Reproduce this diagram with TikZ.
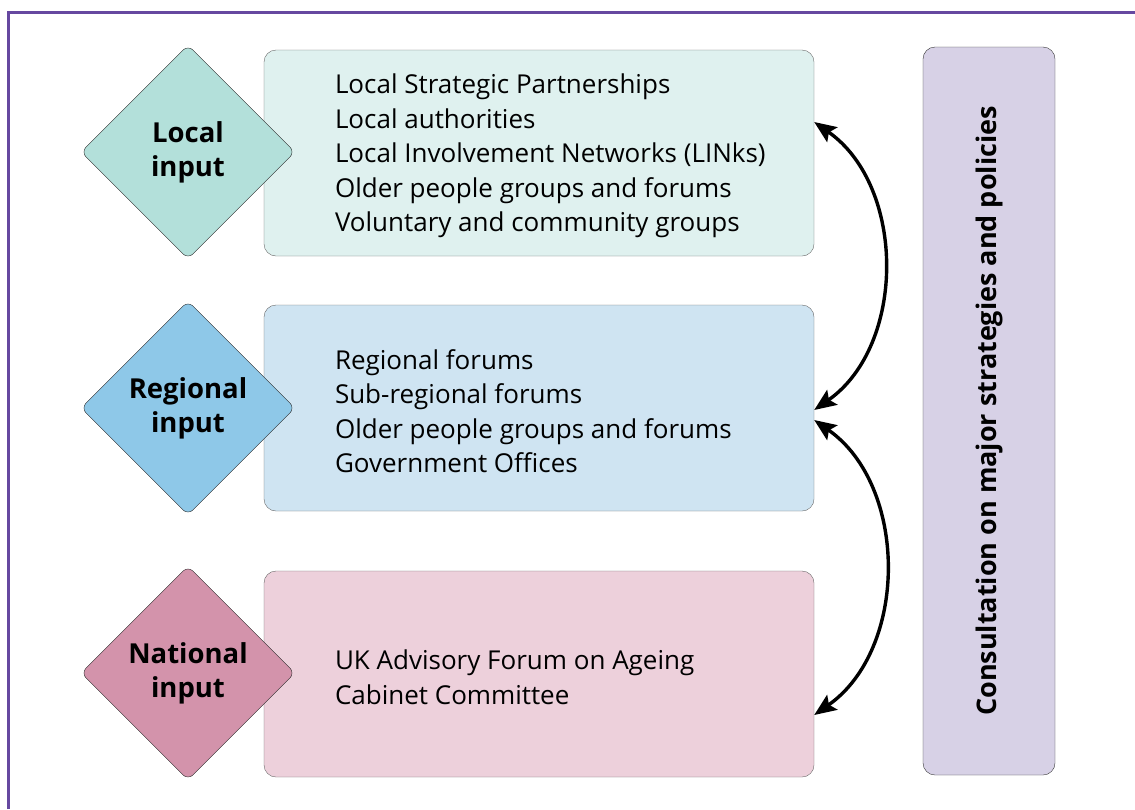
\documentclass[tikz,border=0pt]{standalone}
\usepackage{fontspec}
\setmainfont{Open Sans}
\usepackage{xcolor}
\usetikzlibrary{positioning,arrows.meta,shapes.geometric}

\definecolor{framepurple}{RGB}{102,72,160}
\definecolor{localdark}{RGB}{179,224,218}
\definecolor{locallight}{RGB}{223,241,239}
\definecolor{regionaldark}{RGB}{142,200,232}
\definecolor{regionallight}{RGB}{207,228,242}
\definecolor{nationaldark}{RGB}{211,147,171}
\definecolor{nationallight}{RGB}{237,208,219}
\definecolor{consultfill}{RGB}{215,209,230}

\begin{document}
\begin{tikzpicture}[x=1pt, y=-1pt,
    inputbox/.style={draw=black!85, shape=diamond, aspect=1, minimum size=214pt,
        inner sep=0pt, rounded corners=7pt, align=center,
        font=\fontsize{27.5}{34}\selectfont\bfseries},
    groupbox/.style={draw=black!60, rounded corners=12pt,
        minimum width=550pt, minimum height=206pt},
    grouptext/.style={inner sep=0pt, align=left, yshift=-3pt,
        font=\fontsize{26}{34.5}\selectfont},
    linkarrow/.style={{Stealth[length=22pt, width=18pt, inset=4pt]}-{Stealth[length=22pt, width=18pt, inset=4pt]},
        line width=3.4pt, black}]
\useasboundingbox (0,0) rectangle (1135,809);

% outer frame
\draw[framepurple, line width=3pt] (8,809) -- (8,12) -- (1135,12);

% local level
\node[groupbox, fill=locallight] (group_local) at (539,153) {};
\node[grouptext, right=71pt of group_local.west] (text_local) {Local Strategic Partnerships\\
    Local authorities\\
    Local Involvement Networks (LINks)\\
    Older people groups and forums\\
    Voluntary and community groups};
\node[inputbox, fill=localdark] (input_local) at (188,152) {Local\\input};

% regional level
\node[groupbox, fill=regionallight] (group_regional) at (539,408) {};
\node[grouptext, right=71pt of group_regional.west] (text_regional) {Regional forums\\
    Sub-regional forums\\
    Older people groups and forums\\
    Government Offices};
\node[inputbox, fill=regionaldark] (input_regional) at (188,408) {Regional\\input};

% national level
\node[groupbox, fill=nationallight] (group_national) at (539,674) {};
\node[grouptext, right=71pt of group_national.west] (text_national) {UK Advisory Forum on Ageing\\
    Cabinet Committee};
\node[inputbox, fill=nationaldark] (input_national) at (188,673) {National\\input};

% consultation
\node[draw=black!80, fill=consultfill, rounded corners=12pt, rotate=90,
    minimum width=728pt, minimum height=132pt,
    font=\fontsize{27}{30}\selectfont\bfseries] (consultation) at (989,411)
    {Consultation on major strategies and policies};

\draw[linkarrow] ([yshift=31pt]group_local.east) to[bend left=55] ([yshift=-2pt]group_regional.east);
\draw[linkarrow] ([yshift=-12pt]group_regional.east) to[bend left=55] ([yshift=-41pt]group_national.east);

\end{tikzpicture}
\end{document}
